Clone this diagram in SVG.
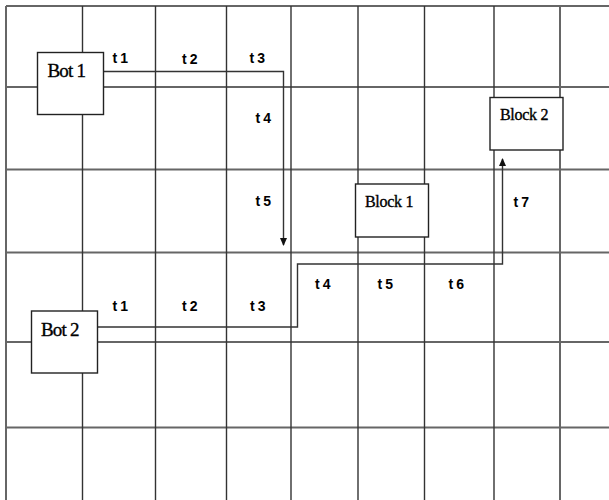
<svg xmlns="http://www.w3.org/2000/svg" width="609" height="500" viewBox="0 0 609 500">
<style>
.h{stroke:#666;stroke-width:2;}
.v{stroke:#333;stroke-width:1.4;}
.box{fill:#fff;stroke:#222;stroke-width:1.4;}
.name{font-family:"Liberation Serif",serif;fill:#000;stroke:#000;stroke-width:0.35;}
.bot{font-size:19px;letter-spacing:-0.8px;}
.blk{font-size:16px;letter-spacing:-0.3px;}
.lbl{font-family:"Liberation Sans",sans-serif;font-weight:bold;font-size:14px;fill:#000;text-anchor:middle;letter-spacing:-0.5px;}
.conn{fill:none;stroke:#333;stroke-width:1.4;}
</style>
<defs>
<marker id="arr" markerWidth="8" markerHeight="8" refX="7" refY="3.5" orient="auto" markerUnits="userSpaceOnUse">
<path d="M0,0 L8,3.5 L0,7 Z" fill="#111"/>
</marker>
</defs>
<rect width="609" height="500" fill="#fff"/>
<g id="grid">
<line class="h" x1="6" y1="6" x2="609" y2="6"/>
<line class="h" x1="6" y1="87" x2="609" y2="87"/>
<line class="h" x1="6" y1="169.5" x2="609" y2="169.5"/>
<line class="h" x1="6" y1="252.5" x2="609" y2="252.5"/>
<line class="h" x1="6" y1="342" x2="609" y2="342"/>
<line class="h" x1="6" y1="427.5" x2="609" y2="427.5"/>
<line class="h" x1="6" y1="6" x2="6" y2="500"/>
<line class="v" x1="82.5" y1="6" x2="82.5" y2="500"/>
<line class="v" x1="155.5" y1="6" x2="155.5" y2="500"/>
<line class="v" x1="226.5" y1="6" x2="226.5" y2="500"/>
<line class="v" x1="291" y1="6" x2="291" y2="500"/>
<line class="v" x1="358" y1="6" x2="358" y2="500"/>
<line class="v" x1="424.5" y1="6" x2="424.5" y2="500"/>
<line class="v" x1="494" y1="6" x2="494" y2="500"/>
<line class="h" x1="560" y1="6" x2="560" y2="500"/>
</g>
<g id="connectors">
<path class="conn" d="M103.5,71.5 H283.5 V245" marker-end="url(#arr)"/>
<path class="conn" d="M97.5,327 H297.5 V264 H502.5 V159" marker-end="url(#arr)"/>
</g>
<g id="bot1">
<rect class="box" x="37.5" y="52.5" width="66" height="62"/>
<text class="name bot" x="47.5" y="77">Bot 1</text>
</g>
<g id="bot2">
<rect class="box" x="31.5" y="311" width="66" height="62"/>
<text class="name bot" x="41" y="335.5">Bot 2</text>
</g>
<g id="block1">
<rect class="box" x="355.5" y="184" width="73" height="53"/>
<text class="name blk" x="365" y="207">Block 1</text>
</g>
<g id="block2">
<rect class="box" x="490" y="97.5" width="73" height="52.5"/>
<text class="name blk" x="500" y="119.5">Block 2</text>
</g>
<g id="labels">
<text class="lbl" x="120" y="63">t 1</text>
<text class="lbl" x="189.5" y="64">t 2</text>
<text class="lbl" x="257" y="63">t 3</text>
<text class="lbl" x="263" y="123">t 4</text>
<text class="lbl" x="263" y="206">t 5</text>
<text class="lbl" x="120" y="311">t 1</text>
<text class="lbl" x="189.5" y="311">t 2</text>
<text class="lbl" x="257.5" y="311">t 3</text>
<text class="lbl" x="322.5" y="289">t 4</text>
<text class="lbl" x="385" y="289">t 5</text>
<text class="lbl" x="456" y="289">t 6</text>
<text class="lbl" x="521" y="207">t 7</text>
</g>
</svg>
